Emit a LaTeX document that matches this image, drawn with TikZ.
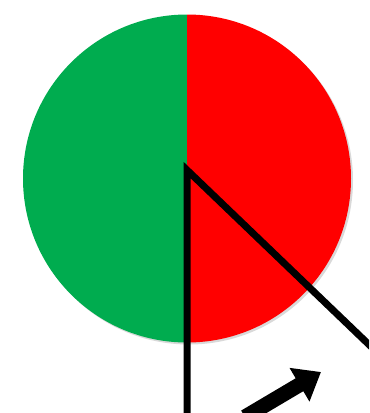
\documentclass[tikz,border=0pt]{standalone}
\usetikzlibrary{arrows.meta,calc}
\definecolor{piegreen}{HTML}{00AC4F}
\definecolor{piered}{HTML}{FF0000}

\begin{document}
\begin{tikzpicture}[x=0.02cm,y=-0.02cm]

% === Frame (pixel units) ===
\useasboundingbox (0,0) rectangle (369,413);
\clip (0,0) rectangle (369,413);

% === Pie: left half green, right half red ===
\coordinate (mid) at (187,178.5);
\def\rad{164}
\fill[black!15] ($(mid)+(2,2)$) circle (\rad);
\begin{scope}
  \clip (mid) circle (\rad);
  \fill[piegreen] (0,0) rectangle (187,413);
  \fill[piered] (187,0) rectangle (369,413);
\end{scope}

% === Hands ===
\coordinate (hub) at (187,170);
\coordinate (low) at (187,425);
\coordinate (far) at (385,360);
\draw[line width=0.14cm,line join=miter] (far) -- (hub) -- (low);

% === Block arrow ===
\coordinate (tail) at (245,417);
\coordinate (tip) at (321,372);
\draw[line width=0.3cm,-{Triangle[length=0.5cm,width=0.75cm]}] (tail) -- (tip);

\end{tikzpicture}
\end{document}
